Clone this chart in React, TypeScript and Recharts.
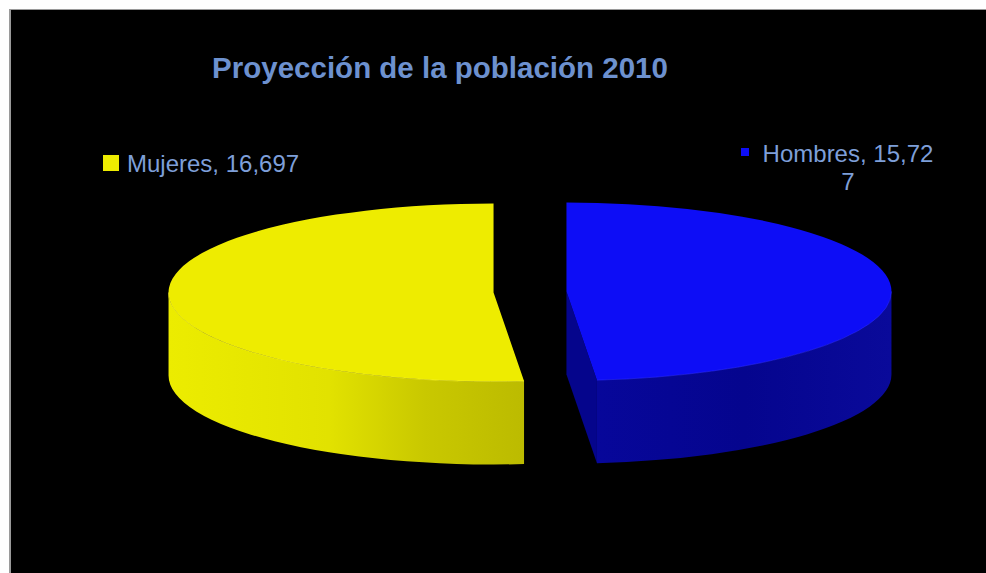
import React from 'react';
import { PieChart, Pie } from 'recharts';

const categories = ['Mujeres', 'Hombres'];
const values = [16.697, 15.727];
const titleText = 'Proyección de la población 2010';

const data = categories.map((name, i) => ({ name, value: values[i] }));

const TOP_COLORS = ['#eeec00', '#0d0df6'];
const SIDE_STOPS: [string, string][][] = [
  [['0', '#ecec00'], ['0.45', '#e2e200'], ['0.72', '#c9c800'], ['1', '#bcbb00']],
  [['0', '#07079a'], ['0.5', '#05058e'], ['1', '#0a0a9a']],
];
const CUT_COLORS = ['#b5b400', '#05058c'];
const RIM_COLORS = ['#f6f430', '#2a2aff'];
const LABEL_COLOR = '#7e9fd9';
const TITLE_COLOR = '#6d91cf';
const FONT = '"Liberation Sans", Arial, sans-serif';

const RATIO = 89 / 325;
const DEPTH = 83;
const EXPLODE = 36.5;
const RAD = Math.PI / 180;

const LABEL_LAYOUT = [
  { sqX: 92, sqY: 145, sq: 16, x: 116, y: 162, anchor: 'start', wrap: 0 },
  { sqX: 730, sqY: 138, sq: 8, x: 837, y: 152, anchor: 'middle', wrap: 14 },
];

function render3D(props: any) {
  const { cx, cy, outerRadius, startAngle, endAngle, index, name, value } = props;
  const s = Math.min(startAngle, endAngle);
  const e = Math.max(startAngle, endAngle);
  const mid = (s + e) / 2;
  const ox = cx + EXPLODE * Math.cos(mid * RAD);
  const oy = cy - EXPLODE * RATIO * Math.sin(mid * RAD);
  const rx = outerRadius;
  const ry = outerRadius * RATIO;
  const pt = (a: number, h = 0) => [ox + rx * Math.cos(a * RAD), oy - ry * Math.sin(a * RAD) + h];

  const [sx, sy] = pt(s);
  const [ex, ey] = pt(e);
  const large = e - s > 180 ? 1 : 0;
  const topPath = `M${ox},${oy} L${sx},${sy} A${rx},${ry} 0 ${large} 0 ${ex},${ey} Z`;

  const sides: string[] = [];
  const rims: string[] = [];
  for (const k of [-360, 0, 360]) {
    const lo = Math.max(s, 180 + k);
    const hi = Math.min(e, 360 + k);
    if (hi > lo) {
      const [ax, ay] = pt(lo);
      const [bx, by] = pt(hi);
      const [cbx, cby] = pt(hi, DEPTH);
      const [cax, cay] = pt(lo, DEPTH);
      sides.push(`M${ax},${ay} A${rx},${ry} 0 0 0 ${bx},${by} L${cbx},${cby} A${rx},${ry} 0 0 1 ${cax},${cay} Z`);
      rims.push(`M${ax},${ay} A${rx},${ry} 0 0 0 ${bx},${by}`);
    }
  }

  const cuts: string[] = [];
  const face = (a: number) => {
    const [px, py] = pt(a);
    const [qx, qy] = pt(a, DEPTH);
    return `M${ox},${oy} L${px},${py} L${qx},${qy} L${ox},${oy + DEPTH} Z`;
  };
  if (Math.sin((s - 90) * RAD) < -0.01) cuts.push(face(s));
  if (Math.sin((e + 90) * RAD) < -0.01) cuts.push(face(e));

  const gid = `side-grad-${index}`;
  const lay = LABEL_LAYOUT[index];
  const full = `${name}, ${Number(value).toFixed(3).replace('.', ',')}`;
  const lines = lay.wrap > 0 && full.length > lay.wrap ? [full.slice(0, lay.wrap), full.slice(lay.wrap)] : [full];

  return (
    <g key={`slice-${index}`}>
      <defs>
        <linearGradient id={gid} x1="0" y1="0" x2="1" y2="0">
          {SIDE_STOPS[index].map(([o, c]) => (
            <stop key={o} offset={o} stopColor={c} />
          ))}
        </linearGradient>
      </defs>
      {cuts.map((d, i) => (
        <path key={`c${i}`} d={d} fill={CUT_COLORS[index]} stroke="none" />
      ))}
      {sides.map((d, i) => (
        <path key={`s${i}`} d={d} fill={`url(#${gid})`} stroke="none" />
      ))}
      <path d={topPath} fill={TOP_COLORS[index]} stroke="none" />
      {rims.map((d, i) => (
        <path key={`r${i}`} d={d} fill="none" stroke={RIM_COLORS[index]} strokeWidth={1} strokeOpacity={0.6} />
      ))}
      <rect x={lay.sqX} y={lay.sqY} width={lay.sq} height={lay.sq} fill={TOP_COLORS[index]} />
      <text x={lay.x} y={lay.y} textAnchor={lay.anchor as any} fill={LABEL_COLOR} fontSize={24} fontFamily={FONT}>
        {lines.map((ln, i) => (
          <tspan key={i} x={lay.x} dy={i === 0 ? 0 : 28}>
            {ln}
          </tspan>
        ))}
      </text>
    </g>
  );
}

export default function App() {
  return (
    <div
      style={{
        position: 'absolute',
        left: 9,
        top: 9,
        width: 977,
        height: 564,
        boxSizing: 'border-box',
        background: '#000',
        borderLeft: '2px solid #9a9a9a',
        borderTop: '1px solid #9a9a9a',
      }}
    >
      <PieChart width={975} height={563} margin={{ top: 0, right: 0, bottom: 0, left: 0 }}>
        <text x={429} y={68} textAnchor="middle" fill={TITLE_COLOR} fontSize={29.5} fontWeight="bold" fontFamily={FONT}>
          {titleText}
        </text>
        <Pie
          data={data}
          dataKey="value"
          nameKey="name"
          cx={519}
          cy={282}
          outerRadius={325}
          startAngle={90}
          endAngle={450}
          fill="none"
          stroke="none"
          isAnimationActive={false}
          label={render3D}
          labelLine={false}
          legendType="none"
        />
      </PieChart>
    </div>
  );
}
